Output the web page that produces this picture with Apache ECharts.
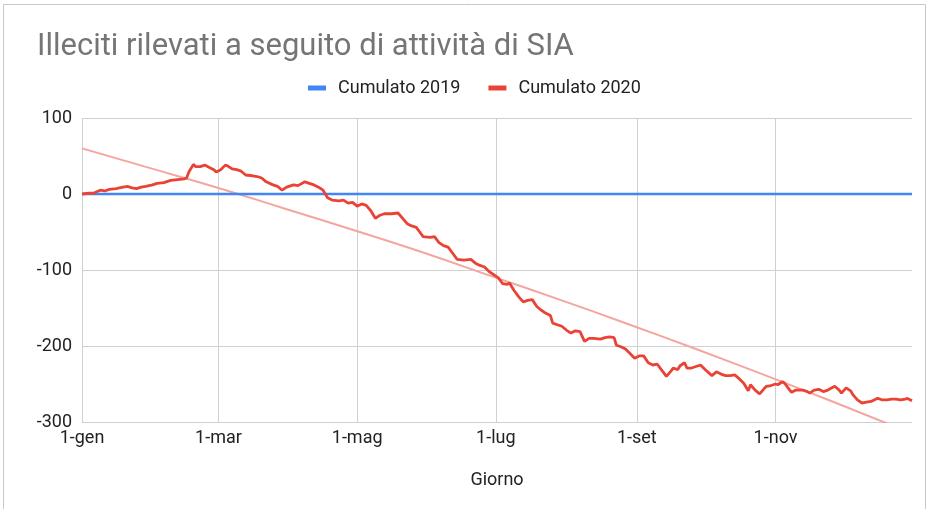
<!DOCTYPE html>
<html>
<head>
<meta charset="utf-8">
<script src="https://cdn.jsdelivr.net/npm/echarts@6.0.0/dist/echarts.min.js"></script>
<style>
  html, body { margin: 0; padding: 0; background: #fff; }
  #chart { width: 930px; height: 509px; }
</style>
</head>
<body>
<div id="chart"></div>
<script>
// ===== dati =====
const tickDays = [0, 60, 121, 182, 244, 305];
const tickLabels = ['1-gen', '1-mar', '1-mag', '1-lug', '1-set', '1-nov'];

// Cumulato 2019 (linea piatta a zero)
const days2019 = [0, 365];
const values2019 = [0, 0];

// Cumulato 2020: giorno dell'anno -> valore
const days2020 = [0, 3, 5, 8, 10, 12, 15, 18, 20, 22, 24, 26, 28, 31, 33, 36, 39, 42, 45, 46,
  47, 49, 50, 52, 54, 56, 58, 59, 61, 63, 64, 66, 68, 70, 72, 75, 77, 79, 81, 84,
  86, 88, 90, 93, 95, 98, 100, 102, 104, 106, 108, 110, 113, 115, 117, 119, 121, 123, 125, 127,
  129, 131, 133, 136, 139, 141, 143, 145, 147, 149, 150, 153, 155, 157, 159, 161, 163, 165, 168, 171,
  173, 175, 177, 179, 181, 183, 185, 187, 188, 190, 192, 194, 196, 198, 200, 202, 204, 206, 207, 209,
  211, 213, 215, 217, 219, 221, 223, 225, 228, 230, 232, 234, 235, 237, 239, 241, 243, 245, 247, 249,
  251, 253, 255, 257, 259, 260, 262, 263, 265, 266, 268, 270, 272, 274, 277, 279, 281, 283, 285, 287,
  289, 291, 293, 294, 296, 298, 300, 301, 303, 305, 306, 308, 309, 311, 312, 314, 317, 319, 320, 322,
  324, 326, 328, 331, 333, 334, 336, 338, 339, 341, 343, 345, 347, 349, 350, 352, 354, 356, 358, 360,
  362, 363, 365];
const values2020 = [0, 1, 1, 5, 4, 6, 7, 9, 10, 8, 7, 9, 10, 12, 14, 15, 18, 19, 20, 21,
  29, 39, 36, 36, 38, 35, 32, 29, 32, 38, 37, 33, 32, 30, 25, 24, 23, 21, 16, 12,
  10, 5, 9, 12, 11, 16, 14, 12, 9, 5, -5, -8, -9, -8, -12, -11, -16, -13, -15, -22,
  -32, -28, -26, -26, -25, -32, -39, -42, -44, -52, -56, -57, -56, -64, -68, -70, -78, -86, -87, -86,
  -91, -94, -96, -102, -106, -110, -118, -119, -117, -127, -135, -142, -140, -139, -148, -153, -157, -160, -170, -172,
  -174, -179, -183, -180, -181, -194, -190, -190, -191, -189, -188, -189, -199, -201, -204, -210, -216, -213, -213, -222,
  -225, -224, -232, -240, -233, -229, -231, -226, -222, -229, -229, -227, -225, -231, -239, -234, -237, -239, -239, -238,
  -243, -249, -259, -251, -258, -263, -256, -253, -252, -250, -251, -247, -249, -257, -261, -258, -258, -260, -262, -258,
  -257, -260, -258, -253, -258, -262, -255, -259, -264, -271, -275, -274, -273, -270, -269, -271, -271, -270, -270, -271,
  -270, -269, -272];

// linea di tendenza (rosa chiaro)
const trendDays = [0, 30, 60, 90, 120, 150, 180, 210, 240, 270, 300, 330, 355];
const trendValues = [60, 34, 8, -20, -48, -77, -108, -139, -171, -204, -238, -273, -303];

const zip = (xs, ys) => xs.map((x, i) => [x, ys[i]]);

const chart = echarts.init(document.getElementById('chart'));
chart.setOption({
  animation: false,
  textStyle: { fontFamily: 'Roboto' },
  title: {
    text: 'Illeciti rilevati a seguito di attività di SIA',
    left: 32,
    top: 27,
    textStyle: { fontSize: 31, fontWeight: 'normal', color: '#757575', fontFamily: 'Roboto' }
  },
  legend: {
    top: 74,
    left: 303,
    itemWidth: 18,
    itemHeight: 5,
    itemGap: 28,
    icon: 'rect',
    textStyle: { fontSize: 18, color: '#222', padding: [0, 0, 0, 7] },
    data: ['Cumulato 2019', 'Cumulato 2020']
  },
  grid: { left: 82, right: 18, top: 118, bottom: 87, containLabel: false },
  xAxis: {
    type: 'value',
    min: 0,
    max: 365,
    name: 'Giorno',
    nameLocation: 'middle',
    nameGap: 49,
    nameTextStyle: { fontSize: 18, color: '#222' },
    axisLine: { show: false },
    axisTick: { show: false, customValues: tickDays },
    axisLabel: {
      customValues: tickDays,
      margin: 7,
      fontSize: 18,
      color: '#222',
      formatter: v => tickLabels[tickDays.indexOf(v)]
    },
    splitLine: { show: true, lineStyle: { color: '#d0d0d0', width: 1 } }
  },
  yAxis: {
    type: 'value',
    min: -300,
    max: 100,
    interval: 100,
    axisLine: { show: false },
    axisTick: { show: false },
    axisLabel: { fontSize: 18, color: '#222', margin: 10 },
    splitLine: { lineStyle: { color: '#d0d0d0', width: 1 } }
  },
  series: [
    {
      name: 'Cumulato 2019',
      type: 'line',
      data: zip(days2019, values2019),
      symbol: 'none',
      color: '#4285f4',
      lineStyle: { width: 2.5, color: '#4285f4' },
      z: 3
    },
    {
      name: 'Cumulato 2020',
      type: 'line',
      data: zip(days2020, values2020),
      symbol: 'none',
      color: '#ea4335',
      lineStyle: { width: 2.8, color: '#ea4335' },
      z: 4
    },
    {
      name: 'Tendenza',
      type: 'line',
      data: zip(trendDays, trendValues),
      symbol: 'none',
      smooth: true,
      silent: true,
      lineStyle: { width: 2, color: '#f4a5a0' },
      z: 2
    }
  ],
  graphic: [
    {
      type: 'rect',
      shape: { x: 3.5, y: 4.5, width: 922, height: 520 },
      style: { fill: 'none', stroke: '#c8c8c8', lineWidth: 1 },
      silent: true
    }
  ]
});
</script>
</body>
</html>
